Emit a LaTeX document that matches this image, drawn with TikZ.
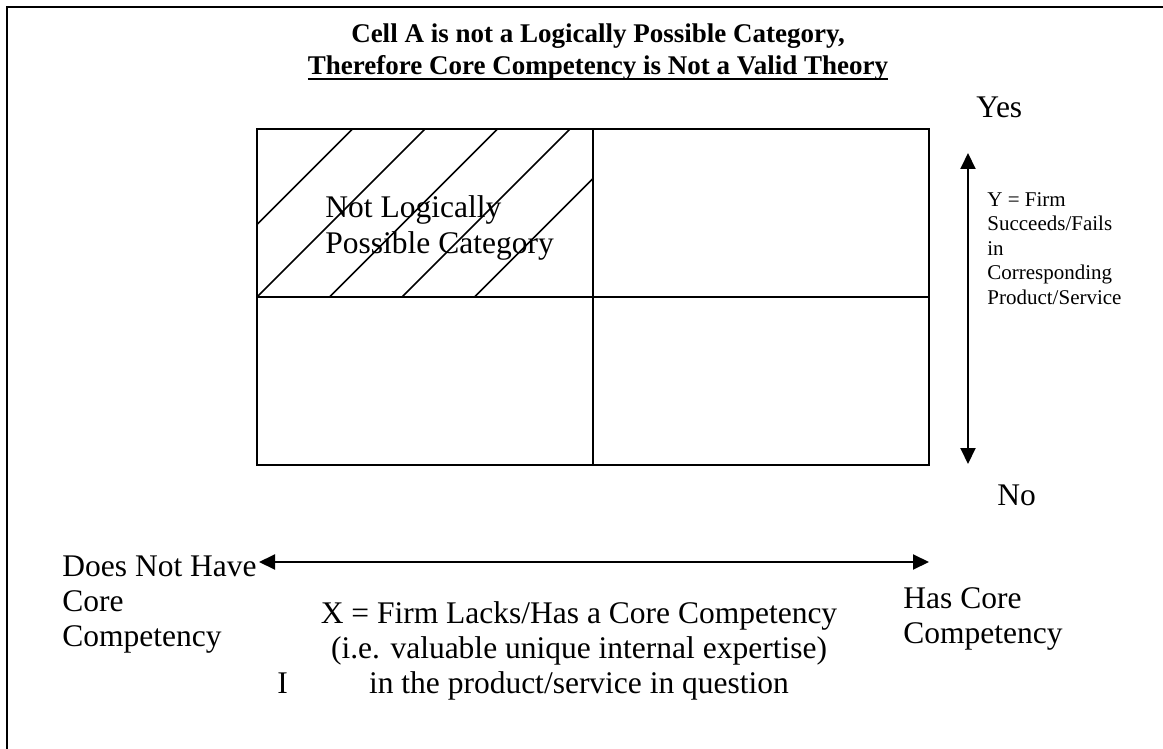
\documentclass[tikz,border=0pt]{standalone}
\usepackage{fontspec}
\setmainfont{Liberation Serif}
\usetikzlibrary{arrows.meta}

\newcommand{\titleul}[1]{\setbox0\hbox{#1}\rlap{\rule[-2.5pt]{\wd0}{1pt}}\box0}

\tikzset{
	bodytext/.style={font=\fontsize{15.75}{17.5}\selectfont, inner sep=0pt},
	smalltext/.style={font=\fontsize{10.5}{12.25}\selectfont, inner sep=0pt},
	titletext/.style={font=\fontsize{13.5}{16}\selectfont\bfseries, inner sep=0pt},
	gridline/.style={line width=1pt},
	hatchline/.style={line width=0.75pt},
	axisarrow/.style={line width=1pt, {Triangle[length=8pt,width=7.5pt]}-{Triangle[length=8pt,width=7.5pt]}}
}

\begin{document}
\begin{tikzpicture}[x=0.5pt, y=-0.5pt]
		\useasboundingbox (0,0) rectangle (1163,749);
		% Frame (top and left edge)
		\draw [line width=1pt] (7,749) -- (7,7) -- (1163,7);
		% Title (base = last line)
		\node (title) [titletext, anchor=base, align=center] at (598,75)
			{Cell A is not a Logically Possible Category,\\\titleul{Therefore Core Competency is Not a Valid Theory}};

		% Draw the 2x2 table
		\draw [gridline] (257,129) rectangle (929,465);
		\draw [gridline] (593,129) -- (593,465);
		\draw [gridline] (257,297) -- (929,297);
		\begin{scope}
			\clip (257,129) rectangle (593,297);
			\foreach \b in {184.5, 257, 329.5, 402, 474.5}
				\draw [hatchline] (\b,297) -- ++(200,-200);
		\end{scope}
		\node (cellA) [bodytext, anchor=base west, align=left] at (325,253) {Not Logically\\Possible Category};

		% Y axis
		\coordinate (ytop) at (968,153);
		\coordinate (ybot) at (968,464);
		\draw [axisarrow] (ybot) -- (ytop);
		\node (yes) [bodytext, anchor=base west] at (976,118) {Yes};
		\node (no) [bodytext, anchor=base west] at (997,505) {No};
		\node (ylabel) [smalltext, anchor=base west, align=left] at (987,304)
			{Y = Firm\\Succeeds/Fails\\in\\Corresponding\\Product/Service};

		% X axis
		\coordinate (xleft) at (259,562);
		\coordinate (xright) at (929,562);
		\draw [axisarrow] (xleft) -- (xright);
		\node (lacks) [bodytext, anchor=base west, align=left] at (62,646) {Does Not Have\\Core\\Competency};
		\node (has) [bodytext, anchor=base west, align=left] at (903,643) {Has Core\\Competency};
		\node (xlabel) [bodytext, anchor=base, align=center] at (579,693)
			{X = Firm Lacks/Has a Core Competency\\(i.e. valuable unique internal expertise)\\in the product/service in question};
		\node (roman) [bodytext, anchor=base west] at (277,693) {I};
	\end{tikzpicture}
\end{document}
